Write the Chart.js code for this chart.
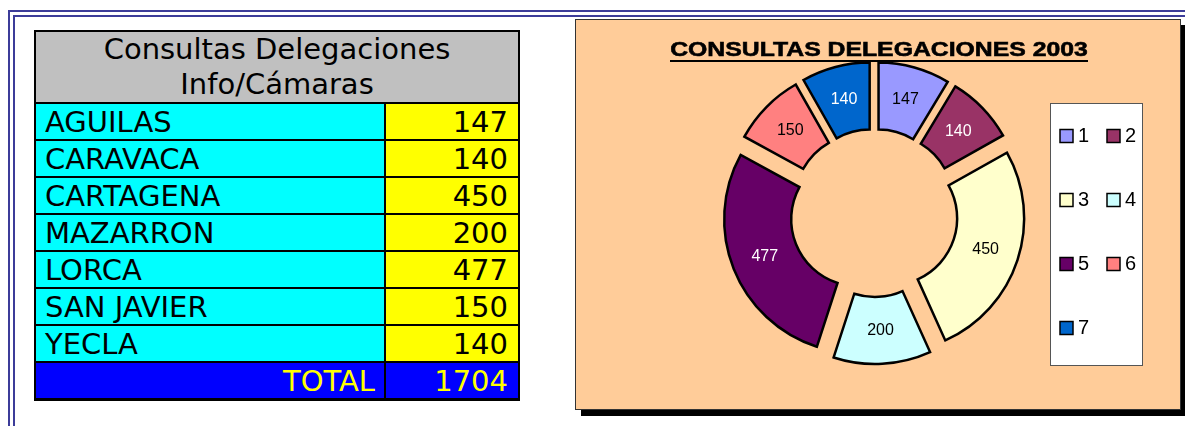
<!DOCTYPE html>
<html lang="es">
<head>
<meta charset="utf-8">
<title>Consultas Delegaciones 2003</title>
<script src="https://cdn.jsdelivr.net/npm/chart.js@4.4.1/dist/chart.umd.min.js"></script>
<style>
  html, body { margin: 0; padding: 0; }
  body { width: 1185px; height: 426px; overflow: hidden; background: #fff; position: relative; }

  /* double page rule, top and left */
  .rule { position: absolute; width: 3000px; height: 3000px;
          border-left: 2px solid #3c3c99; border-top: 2px solid #3c3c99; }
  .rule.outer { left: 8px; top: 10px; }
  .rule.inner { left: 13px; top: 15px; }

  #tabla { position: absolute; left: 34px; top: 30px; width: 484px; table-layout: fixed;
           border-collapse: collapse; font-family: "DejaVu Sans", Verdana, sans-serif;
           font-size: 29px; color: #000; }
  #tabla td { border: 2px solid #000; white-space: nowrap; padding: 0; overflow: hidden; }
  #tabla .head { background: #c0c0c0; text-align: center; height: 68px; line-height: 35px; }
  #tabla .name { background: #00ffff; height: 33px; line-height: 33px; padding: 2px 0 0 9px; }
  #tabla .val  { background: #ffff00; text-align: right; height: 33px; line-height: 33px; padding: 2px 10px 0 0; }
  #tabla tr.total td { background: #0000ff; color: #ffff00; border-bottom-width: 3px; }
  #tabla tr.total .name { text-align: right; padding-right: 9px; }

  #panel { position: absolute; left: 575px; top: 19px; width: 604px; height: 389px;
           background: #ffcc99; border: 1px solid #333; box-shadow: 6px 6px 0 #000; }
  #panel canvas { display: block; }
</style>
</head>
<body>
<div class="rule outer"></div>
<div class="rule inner"></div>

<table id="tabla"><colgroup><col style="width:350px"><col style="width:134px"></colgroup><tbody></tbody></table>

<div id="panel"><canvas id="chart" width="604" height="389"></canvas></div>

<script>
// consultas por delegación, año 2003
const tituloTabla = ["Consultas Delegaciones", "Info/Cámaras"];
const delegaciones = ["AGUILAS", "CARAVACA", "CARTAGENA", "MAZARRON", "LORCA", "SAN JAVIER", "YECLA"];
const consultas = [147, 140, 450, 200, 477, 150, 140];
const leyenda = ["1", "2", "3", "4", "5", "6", "7"];

// Excel chart palette
const colores = ["#9999ff", "#993366", "#ffffcc", "#ccffff", "#660066", "#ff8080", "#0066cc"];
const tinta = ["#000", "#fff", "#000", "#000", "#fff", "#000", "#fff"];

const EXPLODE = 17; // px each slice is pulled out along its mid angle
const FONT = '"Liberation Sans", Arial, sans-serif';

/* ---------------- table ---------------- */
const cuerpo = document.querySelector("#tabla tbody");
let html = `<tr><td class="head" colspan="2">${tituloTabla.join("<br>")}</td></tr>`;
delegaciones.forEach((d, i) => {
  html += `<tr><td class="name">${d}</td><td class="val">${consultas[i]}</td></tr>`;
});
const total = consultas.reduce((a, b) => a + b, 0);
html += `<tr class="total"><td class="name">TOTAL</td><td class="val">${total}</td></tr>`;
cuerpo.innerHTML = html;

/* ---------------- chart plugins ---------------- */
// draw each arc shifted outward (plain translation, like an exploded Excel pie)
const explode = {
  id: "explode",
  beforeDatasetDraw(chart, args) {
    const ctx = chart.ctx;
    args.meta.data.forEach((arc) => {
      const mid = (arc.startAngle + arc.endAngle) / 2;
      ctx.save();
      ctx.translate(Math.cos(mid) * EXPLODE, Math.sin(mid) * EXPLODE);
      arc.draw(ctx, chart.chartArea);
      ctx.restore();
    });
    return false;
  },
};

const valueLabels = {
  id: "valueLabels",
  afterDatasetsDraw(chart) {
    const ctx = chart.ctx;
    const meta = chart.getDatasetMeta(0);
    ctx.save();
    ctx.font = `16px ${FONT}`;
    ctx.textAlign = "center";
    ctx.textBaseline = "middle";
    meta.data.forEach((arc, i) => {
      const mid = (arc.startAngle + arc.endAngle) / 2;
      const r = (arc.innerRadius + arc.outerRadius) / 2 + EXPLODE;
      ctx.fillStyle = tinta[i];
      ctx.fillText(String(chart.data.datasets[0].data[i]), arc.x + Math.cos(mid) * r, arc.y + Math.sin(mid) * r);
    });
    ctx.restore();
  },
};

// stretched, underlined title
const heading = {
  id: "heading",
  afterDraw(chart) {
    const ctx = chart.ctx;
    const text = "CONSULTAS DELEGACIONES 2003";
    const cx = 303, base = 36, stretch = 1.18;
    ctx.save();
    ctx.font = `bold 21px ${FONT}`;
    const w = ctx.measureText(text).width * stretch;
    ctx.translate(cx, base);
    ctx.scale(stretch, 1);
    ctx.fillStyle = "#000";
    ctx.strokeStyle = "#000";
    ctx.lineWidth = 0.6;
    ctx.textAlign = "center";
    ctx.textBaseline = "alphabetic";
    ctx.fillText(text, 0, 0);
    ctx.strokeText(text, 0, 0);
    ctx.restore();
    ctx.fillStyle = "#000";
    ctx.fillRect(Math.round(cx - w / 2), 40, Math.round(w), 2);
  },
};

// boxed legend, two entries per row
const legendBox = {
  id: "legendBox",
  afterDraw(chart) {
    const ctx = chart.ctx;
    const bx = 474.5, by = 83.5, bw = 92, bh = 262;
    ctx.save();
    ctx.fillStyle = "#fff";
    ctx.fillRect(bx, by, bw, bh);
    ctx.strokeStyle = "#555";
    ctx.lineWidth = 1;
    ctx.strokeRect(bx, by, bw, bh);
    ctx.font = `20px ${FONT}`;
    ctx.textBaseline = "middle";
    const fills = chart.data.datasets[0].backgroundColor;
    chart.data.labels.forEach((lab, i) => {
      const x = 484 + (i % 2) * 47;
      const y = 116 + Math.floor(i / 2) * 64;
      ctx.fillStyle = fills[i];
      ctx.fillRect(x, y - 6.5, 13, 13);
      ctx.strokeStyle = "#000";
      ctx.lineWidth = 1.5;
      ctx.strokeRect(x, y - 6.5, 13, 13);
      ctx.fillStyle = "#000";
      ctx.fillText(lab, x + 18, y);
    });
    ctx.restore();
  },
};

/* ---------------- doughnut ---------------- */
new Chart(document.getElementById("chart"), {
  type: "doughnut",
  data: {
    labels: leyenda,
    datasets: [{
      data: consultas,
      backgroundColor: colores,
      borderColor: "#000",
      borderWidth: 2.5,
      borderJoinStyle: "miter",
    }],
  },
  options: {
    responsive: false,
    animation: false,
    devicePixelRatio: 1,
    radius: 134,
    cutout: "50%",
    layout: { padding: { left: 0, right: 8, top: 40, bottom: 43 } },
    plugins: {
      legend: { display: false },
      tooltip: { enabled: false },
    },
  },
  plugins: [explode, valueLabels, heading, legendBox],
});
</script>
</body>
</html>
